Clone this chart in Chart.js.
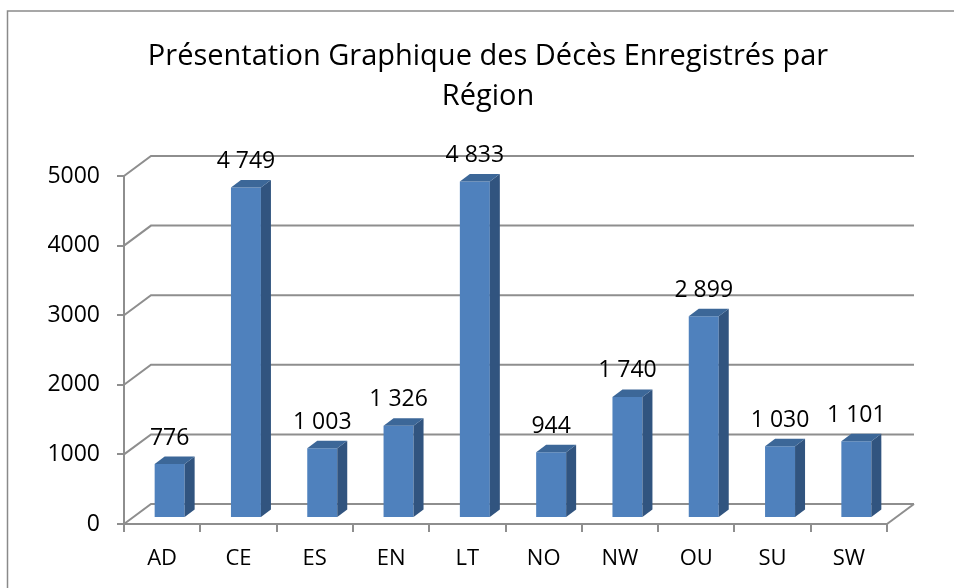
<!DOCTYPE html>
<html><head><meta charset="utf-8">
<script src="https://cdn.jsdelivr.net/npm/chart.js@4/dist/chart.umd.min.js"></script>
<style>html,body{margin:0;padding:0;background:#fff}#wrap{width:954px;height:588px;position:relative}</style>
</head><body><div id="wrap"><canvas id="c" width="954" height="588"></canvas></div>
<script>
const categories = ['AD','CE','ES','EN','LT','NO','NW','OU','SU','SW'];
const deaths = [776, 4749, 1003, 1326, 4833, 944, 1740, 2899, 1030, 1101];
const yTicks = [0, 1000, 2000, 3000, 4000, 5000];
const titleLines = ['Présentation Graphique des Décès Enregistrés par', 'Région'];

const FONT = 'Open Sans';
const GRID = '#8e8e8e';
const WALL = {dx: 27, dy: -20};    // back wall offset
const BAR = {dx: 7.5, dy: -6};     // bar plane offset
const SIDE = {dx: 10, dy: -7.5};   // bar depth

function fmt(v){ return String(v).replace(/\B(?=(\d{3})+(?!\d))/g, '\u00a0'); }

const threeD = {
  id: 'threeD',
  afterLayout(chart){
    const t = chart.titleBlock;
    if (t) { t.left = 89; t.width = t.right - t.left; }
  },
  beforeDraw(chart){
    const ctx = chart.ctx;
    ctx.save();
    ctx.fillStyle = '#fff';
    ctx.fillRect(0,0,chart.width,chart.height);
    ctx.strokeStyle = '#8a8a8a';
    ctx.lineWidth = 1.5;
    ctx.strokeRect(7.5, 11, 1200, 1200);
    ctx.restore();
  },
  beforeDatasetsDraw(chart){
    const ctx = chart.ctx, ys = chart.scales.y, a = chart.chartArea;
    ctx.save();
    ctx.strokeStyle = GRID; ctx.lineWidth = 2;
    yTicks.forEach(v => {
      const y = ys.getPixelForValue(v);
      ctx.beginPath();
      ctx.moveTo(a.left, y);
      ctx.lineTo(a.left + WALL.dx, y + WALL.dy);
      ctx.lineTo(a.right + WALL.dx, y + WALL.dy);
      ctx.stroke();
    });
    const y0 = ys.getPixelForValue(0);
    ctx.beginPath();
    ctx.moveTo(a.right, y0);
    ctx.lineTo(a.right + WALL.dx, y0 + WALL.dy);
    ctx.stroke();
    ctx.restore();
    ctx.save();
    ctx.translate(BAR.dx, BAR.dy);
  },
  afterDatasetsDraw(chart){
    const ctx = chart.ctx;
    const meta = chart.getDatasetMeta(0);
    meta.data.forEach(el => {
      const p = el.getProps(['x','y','base','width'], true);
      const l = p.x - p.width/2, r = p.x + p.width/2;
      ctx.fillStyle = '#31547f';
      ctx.beginPath();
      ctx.moveTo(r, p.base);
      ctx.lineTo(r + SIDE.dx, p.base + SIDE.dy);
      ctx.lineTo(r + SIDE.dx, p.y + SIDE.dy);
      ctx.lineTo(r, p.y);
      ctx.closePath(); ctx.fill();
      ctx.fillStyle = '#3c6798';
      ctx.beginPath();
      ctx.moveTo(l, p.y);
      ctx.lineTo(l + SIDE.dx, p.y + SIDE.dy);
      ctx.lineTo(r + SIDE.dx, p.y + SIDE.dy);
      ctx.lineTo(r, p.y);
      ctx.closePath(); ctx.fill();
    });
    ctx.restore();
    ctx.save();
    ctx.fillStyle = '#000';
    ctx.font = '23px "' + FONT + '"';
    ctx.textAlign = 'center';
    ctx.textBaseline = 'middle';
    meta.data.forEach((el, i) => {
      const p = el.getProps(['x','y'], true);
      ctx.fillText(fmt(deaths[i]), p.x + BAR.dx, p.y + BAR.dy - 26);
    });
    ctx.restore();
  }
};

new Chart(document.getElementById('c'), {
  type: 'bar',
  data: {
    labels: categories,
    datasets: [{
      data: deaths,
      backgroundColor: '#4f81bd',
      borderWidth: 0,
      barPercentage: 0.393,
      categoryPercentage: 1
    }]
  },
  options: {
    responsive: false,
    animation: false,
    devicePixelRatio: 1,
    layout: {padding: {left: 0, right: 67, top: 0, bottom: 0}},
    plugins: {
      legend: {display: false},
      tooltip: {enabled: false},
      title: {
        display: true,
        text: titleLines,
        color: '#000',
        font: {family: FONT, size: 29, weight: 'normal', lineHeight: 40/29},
        padding: {top: 37, bottom: 59}
      }
    },
    scales: {
      x: {
        offset: true,
        grid: {display: true, drawOnChartArea: false, offset: true, color: GRID, lineWidth: 2, tickLength: 8},
        border: {display: true, color: GRID, width: 2},
        ticks: {color: '#000', font: {family: FONT, size: 22}, padding: 14, maxRotation: 0},
        afterFit(s){ s.height = 64; }
      },
      y: {
        min: 0, max: 5000,
        afterBuildTicks(s){ s.ticks = yTicks.map(v => ({value: v})); },
        grid: {display: true, drawOnChartArea: false, color: GRID, lineWidth: 2, tickLength: 7},
        border: {display: true, color: GRID, width: 2},
        ticks: {color: '#000', font: {family: FONT, size: 23}, padding: 17, callback: v => String(v)},
        afterFit(s){ s.width = 124; }
      }
    }
  },
  plugins: [threeD]
});
</script>
</body></html>
